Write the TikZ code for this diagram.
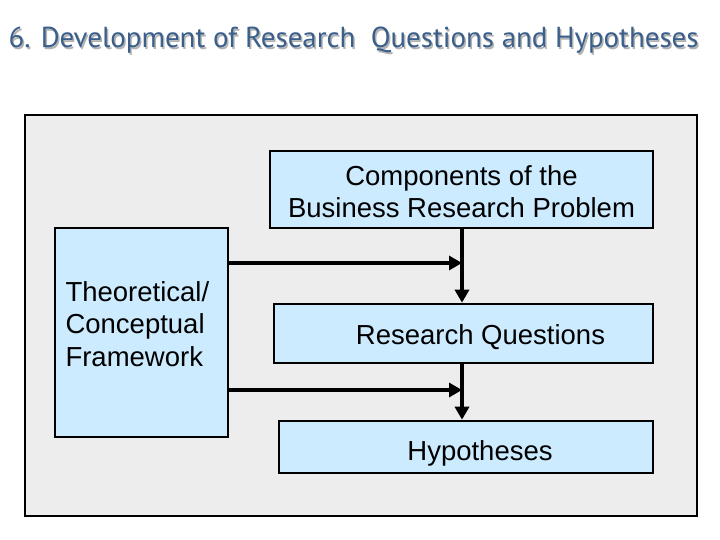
\documentclass[tikz,border=0pt]{standalone}
\usepackage{fontspec}
\setmainfont{Liberation Sans}
\newfontfamily\titlefont{PT Sans}
\usetikzlibrary{arrows.meta}
\definecolor{framegray}{HTML}{EDEDED}
\definecolor{boxblue}{HTML}{CCEBFF}
\definecolor{titleblue}{HTML}{3A5F8B}
\begin{document}
\begin{tikzpicture}[x=1pt,y=-1pt,
  font=\fontsize{27.5}{32.5}\selectfont,
  frame/.style = {draw,line width=2pt,fill=framegray},
  box/.style = {draw,line width=2.6pt,fill=boxblue,inner sep=0pt},
  flow/.style = {line width=4pt,-{Triangle[length=13pt,width=14pt]}}
]
 \useasboundingbox (0,0) rectangle (720,540);
 % title with its shadow
 \node[anchor=base west,text=black!30,font=\titlefont\fontsize{28.9}{34}\selectfont] at (6.5,49.5) {6. Development of Research\ \ Questions and Hypotheses};
 \node[anchor=base west,text=titleblue,font=\titlefont\fontsize{28.9}{34}\selectfont] (title) at (5,48) {6. Development of Research\ \ Questions and Hypotheses};
 \node[frame,minimum width=672pt,minimum height=401pt] (frame) at (361,315.5) {};
 \node[box,minimum width=383pt,minimum height=77pt,align=center,label={[yshift=-2pt,align=center]center:Components of the\\Business Research Problem}] (problem) at (461.5,189.5) {};
 \node[box,minimum width=173pt,minimum height=209pt] (framework) at (141.5,332.5) {};
 \node[anchor=west,align=left] (frameworktext) at (62,324) {Theoretical/\\Conceptual\\Framework};
 \node[box,minimum width=379pt,minimum height=59pt,label={[xshift=17pt,yshift=-4pt]center:Research Questions}] (questions) at (463.5,333.5) {};
 \node[box,minimum width=374pt,minimum height=52pt,label={[xshift=14pt,yshift=-6pt]center:Hypotheses}] (hypotheses) at (466,447) {};
 \coordinate (q1) at (462,263);
 \coordinate (q2) at (462,390);
 \begin{scope}
 \draw[flow] (problem.south -| q1) -- (questions.north -| q1);
 \draw[flow] (questions.south -| q2) -- (hypotheses.north -| q2);
 \draw[flow] (framework.east |- q1) -- (q1);
 \draw[flow] (framework.east |- q2) -- (q2);
 \end{scope}
\end{tikzpicture}
\end{document}
